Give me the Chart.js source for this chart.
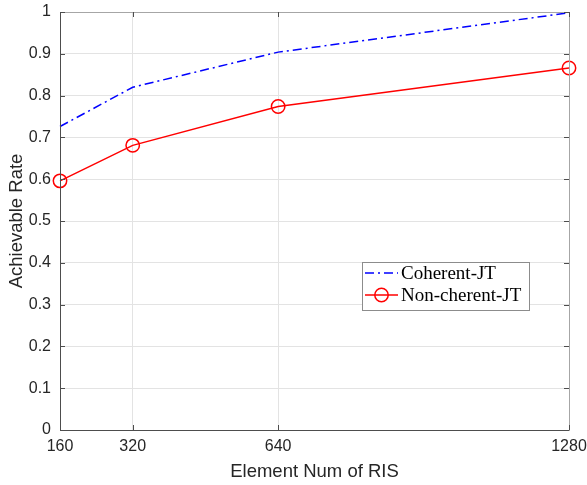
<!DOCTYPE html>
<html>
<head>
<meta charset="utf-8">
<script src="https://cdn.jsdelivr.net/npm/chart.js@4/dist/chart.umd.min.js"></script>
<style>
html,body{margin:0;padding:0;background:#fff;}
#wrap{width:587px;height:485px;}
</style>
</head>
<body>
<div id="wrap"><canvas id="c" width="587" height="485"></canvas></div>
<script>
const elementNums = [160, 320, 640, 1280];
const coherentJT = [0.726, 0.820, 0.904, 0.998];
const nonCoherentJT = [0.596, 0.681, 0.774, 0.866];
const xTicks = [160, 320, 640, 1280];
const yTicks = [0, 0.1, 0.2, 0.3, 0.4, 0.5, 0.6, 0.7, 0.8, 0.9, 1];
const seriesNames = ['Coherent-JT', 'Non-cherent-JT'];

const SANS = '"Liberation Sans", Arial, Helvetica, sans-serif';

const boxPlugin = {
  id: 'boxPlugin',
  afterDatasetsDraw(chart) {
    const ctx = chart.ctx, a = chart.chartArea;
    const xs = chart.scales.x, ys = chart.scales.y;
    ctx.save();
    ctx.lineWidth = 1;
    ctx.strokeStyle = '#a6a6a6';
    ctx.beginPath();
    ctx.moveTo(a.left, a.top + 0.5); ctx.lineTo(a.right + 0.5, a.top + 0.5); ctx.lineTo(a.right + 0.5, a.bottom);
    ctx.stroke();
    ctx.strokeStyle = '#4d4d4d';
    ctx.beginPath();
    ctx.moveTo(a.left + 0.5, a.top); ctx.lineTo(a.left + 0.5, a.bottom + 0.5); ctx.lineTo(a.right + 0.5, a.bottom + 0.5);
    ctx.stroke();
    const tl = 5;
    ctx.beginPath();
    xTicks.forEach(v => {
      const px = Math.round(xs.getPixelForValue(v)) + 0.5;
      ctx.moveTo(px, a.bottom); ctx.lineTo(px, a.bottom - tl);
      ctx.moveTo(px, a.top); ctx.lineTo(px, a.top + tl);
    });
    yTicks.forEach(v => {
      const py = Math.round(ys.getPixelForValue(v)) + 0.5;
      ctx.moveTo(a.left, py); ctx.lineTo(a.left + tl, py);
      ctx.moveTo(a.right, py); ctx.lineTo(a.right - tl, py);
    });
    ctx.strokeStyle = '#4d4d4d';
    ctx.stroke();
    ctx.restore();
  },
  afterDraw(chart) {
    const ctx = chart.ctx;
    ctx.save();
    const bx = 362, by = 262, bw = 167, bh = 48;
    ctx.fillStyle = '#fff';
    ctx.fillRect(bx, by, bw, bh);
    ctx.strokeStyle = '#8c8c8c';
    ctx.lineWidth = 1;
    ctx.strokeRect(bx + 0.5, by + 0.5, bw, bh);
    const rows = [273, 295];
    ctx.font = '19px "Liberation Serif", "Times New Roman", serif';
    ctx.textBaseline = 'middle';
    ctx.textAlign = 'left';
    chart.data.datasets.forEach((ds, i) => {
      const y = rows[i];
      ctx.strokeStyle = ds.borderColor;
      ctx.lineWidth = 1.5;
      ctx.setLineDash(ds.borderDash || []);
      ctx.beginPath();
      ctx.moveTo(365, y); ctx.lineTo(398, y);
      ctx.stroke();
      ctx.setLineDash([]);
      if (ds.pointRadius > 0) {
        ctx.beginPath();
        ctx.arc(381.5, y, ds.pointRadius, 0, Math.PI * 2);
        ctx.stroke();
      }
      ctx.fillStyle = '#000';
      ctx.fillText(ds.label, 401, y + 1);
    });
    ctx.restore();
  }
};

new Chart(document.getElementById('c'), {
  type: 'line',
  data: {
    datasets: [
      {
        label: seriesNames[0],
        data: elementNums.map((x, i) => ({x, y: coherentJT[i]})),
        borderColor: '#0000ff',
        borderWidth: 1.5,
        borderDash: [9, 4, 2, 4],
        pointRadius: 0,
        fill: false,
        tension: 0,
        clip: false
      },
      {
        label: seriesNames[1],
        data: elementNums.map((x, i) => ({x, y: nonCoherentJT[i]})),
        borderColor: '#ff0000',
        borderWidth: 1.5,
        pointRadius: 6.7,
        pointBorderWidth: 1.5,
        pointBackgroundColor: 'rgba(0,0,0,0)',
        pointBorderColor: '#ff0000',
        pointStyle: 'circle',
        fill: false,
        tension: 0,
        clip: false
      }
    ]
  },
  options: {
    responsive: false,
    animation: false,
    layout: {padding: {left: 0, right: 18, top: 12, bottom: 0}},
    plugins: {legend: {display: false}, tooltip: {enabled: false}},
    scales: {
      x: {
        type: 'linear',
        min: 160, max: 1280,
        afterBuildTicks: s => { s.ticks = xTicks.map(v => ({value: v})); },
        afterFit: s => { s.height = 55; s.paddingLeft = 0; s.paddingRight = 0; },
        grid: {color: '#e3e3e3', drawTicks: false, lineWidth: 1},
        border: {display: false},
        ticks: {
          color: '#262626', padding: 7, maxRotation: 0, autoSkip: false,
          font: {family: SANS, size: 16},
          callback: v => String(v)
        },
        title: {
          display: true, text: 'Element Num of RIS', color: '#262626',
          font: {family: SANS, size: 18.5},
          padding: {top: 0, bottom: 2}
        }
      },
      y: {
        type: 'linear',
        min: 0, max: 1,
        afterBuildTicks: s => { s.ticks = yTicks.map(v => ({value: v})); },
        afterFit: s => { s.width = 60; s.paddingTop = 0; s.paddingBottom = 0; },
        grid: {color: '#e3e3e3', drawTicks: false, lineWidth: 1},
        border: {display: false},
        ticks: {
          color: '#262626', padding: 9, autoSkip: false,
          font: {family: SANS, size: 16},
          callback: v => String(Math.round(v * 10) / 10)
        },
        title: {
          display: true, text: 'Achievable Rate', color: '#262626',
          font: {family: SANS, size: 18.5},
          padding: {top: 5.5, bottom: 0}
        }
      }
    }
  },
  plugins: [boxPlugin]
});
</script>
</body>
</html>
